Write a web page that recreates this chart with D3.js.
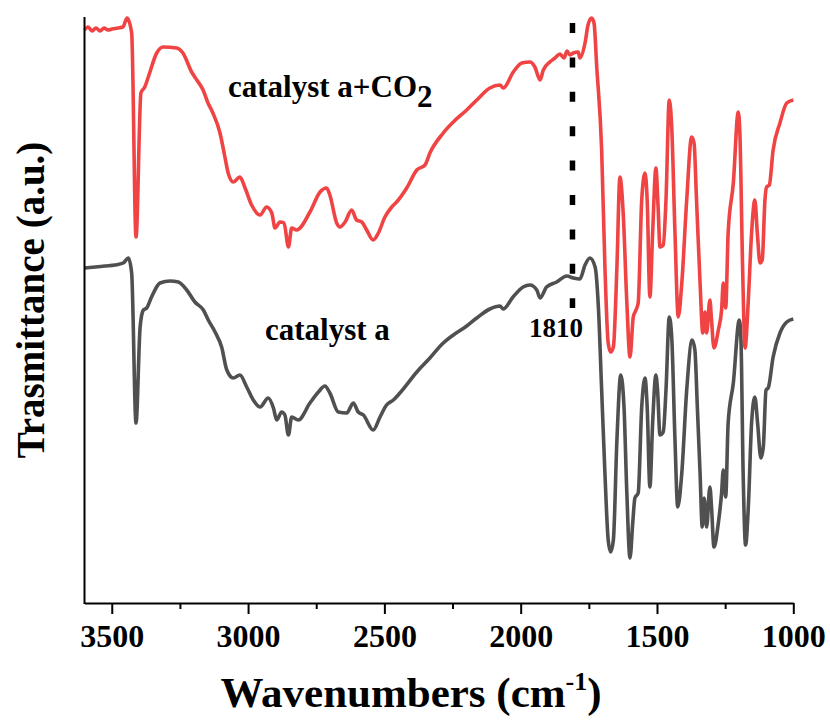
<!DOCTYPE html>
<html lang="en">
<head>
  <meta charset="UTF-8">
  <title>FTIR</title>
  <script src="https://cdn.jsdelivr.net/npm/d3@7/dist/d3.min.js"></script>
  <style>
    body { margin: 0; background: #fff; }
    text { font-family: "Liberation Serif", "Times New Roman", serif; font-weight: bold; }
  </style>
</head>
<body>
  <svg></svg>
  <script>
    // catalyst a + CO2 (red), wavenumber / transmittance (a.u.)
    const co2Wn = [3600, 3587, 3572, 3558, 3543, 3528, 3514, 3499, 3477, 3459, 3444, 3427, 3411, 3393, 3379, 3366,
      3335, 3312, 3262, 3239, 3207, 3188, 3165, 3147, 3129, 3103, 3085, 3073, 3054, 3030, 3011, 2987, 2956, 2932,
      2913, 2901, 2883, 2868, 2852, 2840, 2822, 2773, 2736, 2712, 2700, 2675, 2663, 2644, 2620, 2602, 2583, 2565,
      2541, 2522, 2498, 2473, 2455, 2418, 2381, 2351, 2333, 2284, 2247, 2198, 2161, 2113, 2076, 2064, 2027, 1996,
      1966, 1948, 1929, 1917, 1893, 1874, 1856, 1841, 1830, 1819, 1807, 1789, 1783, 1764, 1753, 1740, 1731, 1721,
      1703, 1691, 1679, 1670, 1660, 1647, 1636, 1624, 1611, 1599, 1587, 1577, 1569, 1556, 1544, 1536, 1526, 1516,
      1504, 1496, 1489, 1477, 1467, 1455, 1446, 1434, 1422, 1409, 1391, 1373, 1364, 1355, 1342, 1332, 1324, 1318,
      1306, 1300, 1291, 1275, 1263, 1257, 1248, 1239, 1220, 1202, 1196, 1186, 1177, 1165, 1153, 1141, 1132, 1122,
      1114, 1104, 1098, 1088, 1074, 1049, 1024, 1000];
    const co2T = [573, 576, 572, 575, 572, 575, 573, 574, 575, 576, 585, 570, 366, 510, 516, 526,
      550, 556, 555, 550, 531, 523, 513, 500, 490, 470, 446, 430, 421, 426, 415, 398, 388, 396,
      390, 375, 381, 380, 356, 375, 373, 391, 411, 415, 408, 380, 376, 381, 393, 383, 381, 373,
      363, 370, 386, 396, 401, 415, 433, 438, 450, 470, 481, 493, 503, 515, 518, 515, 531, 540,
      541, 536, 523, 533, 541, 545, 549, 545, 552, 548, 550, 551, 545, 560, 578, 585, 580, 536,
      453, 336, 260, 251, 256, 336, 426, 390, 303, 246, 286, 293, 300, 403, 430, 403, 306, 370,
      435, 396, 356, 358, 403, 503, 476, 370, 286, 320, 403, 466, 460, 403, 320, 270, 291, 270,
      303, 283, 255, 273, 293, 320, 295, 370, 420, 491, 470, 336, 255, 303, 370, 403, 370, 340,
      343, 403, 416, 418, 453, 480, 500, 503];

    // catalyst a (grey)
    const catWn = [3600, 3561, 3525, 3488, 3458, 3439, 3427, 3411, 3396, 3384, 3372, 3354, 3323, 3286, 3256, 3225,
      3195, 3164, 3146, 3121, 3097, 3078, 3054, 3030, 3005, 2981, 2956, 2926, 2907, 2895, 2877, 2865, 2852, 2840,
      2816, 2773, 2742, 2718, 2700, 2669, 2638, 2614, 2596, 2577, 2541, 2516, 2492, 2467, 2443, 2381, 2333, 2284,
      2247, 2198, 2161, 2113, 2076, 2064, 2028, 1991, 1966, 1941, 1929, 1905, 1868, 1831, 1807, 1783, 1764, 1746,
      1727, 1715, 1703, 1691, 1679, 1670, 1660, 1647, 1633, 1621, 1611, 1599, 1589, 1581, 1569, 1556, 1544, 1536,
      1526, 1516, 1504, 1498, 1489, 1477, 1467, 1455, 1446, 1434, 1424, 1409, 1391, 1371, 1361, 1352, 1342, 1334,
      1327, 1318, 1306, 1300, 1291, 1275, 1263, 1257, 1248, 1239, 1220, 1198, 1192, 1184, 1175, 1165, 1153, 1141,
      1131, 1119, 1110, 1100, 1092, 1074, 1049, 1024, 1000];
    const catT = [335, 336, 337, 338, 340, 345, 330, 180, 276, 293, 295, 306, 320, 322, 321, 313,
      301, 293, 283, 271, 256, 233, 225, 228, 216, 203, 196, 205, 195, 183, 191, 188, 168, 186,
      183, 200, 211, 217, 210, 191, 190, 200, 191, 188, 173, 186, 198, 203, 210, 231, 245, 260,
      268, 277, 285, 294, 297, 294, 306, 316, 318, 313, 305, 316, 321, 327, 325, 324, 338, 345,
      336, 296, 213, 130, 63, 51, 63, 163, 228, 196, 113, 45, 80, 105, 110, 196, 225, 196,
      116, 180, 228, 213, 168, 171, 213, 286, 266, 163, 96, 130, 213, 263, 253, 196, 130, 76,
      105, 76, 116, 96, 56, 80, 110, 133, 106, 180, 220, 283, 263, 130, 58, 96, 180, 206,
      180, 145, 156, 213, 215, 246, 270, 281, 284];

    const majorTicks = [3500, 3000, 2500, 2000, 1500, 1000];
    const minorTicks = [3250, 2750, 2250, 1750, 1250];
    const markWn = 1810;

    const width = 830, height = 720;
    const svg = d3.select("svg").attr("width", width).attr("height", height);

    const x = d3.scaleLinear().domain([3600, 1000]).range([84.5, 793.3]);
    const y = d3.scaleLinear().domain([0, 586]).range([603, 17]);

    const line = d3.line()
      .x(d => x(d[0]))
      .y(d => y(d[1]))
      .curve(d3.curveMonotoneX);

    const series = [
      { wn: catWn, t: catT, color: "#505050" },
      { wn: co2Wn, t: co2T, color: "#f04343" }
    ];

    // dotted marker at 1810
    svg.append("line")
      .attr("x1", x(markWn)).attr("x2", x(markWn))
      .attr("y1", 23).attr("y2", 308)
      .attr("stroke", "#000")
      .attr("stroke-width", 5.5)
      .attr("stroke-dasharray", "10 24.4");

    series.forEach(s => {
      svg.append("path")
        .datum(d3.zip(s.wn, s.t))
        .attr("d", line)
        .attr("fill", "none")
        .attr("stroke", s.color)
        .attr("stroke-width", 3.6)
        .attr("stroke-linejoin", "round");
    });

    // axes
    const xAxis = svg.append("g")
      .attr("transform", `translate(0,${y(0)})`)
      .call(d3.axisBottom(x).tickValues(majorTicks).tickSize(11).tickSizeOuter(0).tickPadding(10).tickFormat(d3.format("d")));
    xAxis.select(".domain").attr("stroke-width", 2);
    xAxis.selectAll(".tick line").attr("stroke-width", 2);
    xAxis.selectAll("text").attr("font-size", 32).attr("fill", "#000")
      .style("font-family", '"Liberation Serif", serif').style("font-weight", "bold");

    const minor = svg.append("g")
      .attr("transform", `translate(0,${y(0)})`)
      .call(d3.axisBottom(x).tickValues(minorTicks).tickSize(6).tickSizeOuter(0).tickFormat(""));
    minor.select(".domain").remove();
    minor.selectAll(".tick line").attr("stroke-width", 2);

    svg.append("line")
      .attr("x1", x(3600)).attr("x2", x(3600))
      .attr("y1", y(586)).attr("y2", y(0) + 1)
      .attr("stroke", "#000").attr("stroke-width", 2);

    // titles
    const xt = svg.append("text")
      .attr("x", 411).attr("y", 707)
      .attr("text-anchor", "middle")
      .attr("font-size", 43);
    xt.append("tspan").text("Wavenumbers (cm");
    xt.append("tspan").attr("font-size", 26).attr("dy", -17).text("-1");
    xt.append("tspan").attr("dy", 17).text(")");

    svg.append("text")
      .attr("transform", "translate(44,300) rotate(-90)")
      .attr("text-anchor", "middle")
      .attr("font-size", 39)
      .text("Trasmittance (a.u.)");

    // annotations
    const lab = svg.append("text").attr("x", 228).attr("y", 97).attr("font-size", 31);
    lab.append("tspan").text("catalyst a+CO");
    lab.append("tspan").attr("dy", 10).text("2");

    svg.append("text").attr("x", 265).attr("y", 340).attr("font-size", 31).text("catalyst a");

    svg.append("text").attr("x", 583).attr("y", 337).attr("text-anchor", "end")
      .attr("font-size", 27).text("1810");
  </script>
</body>
</html>
